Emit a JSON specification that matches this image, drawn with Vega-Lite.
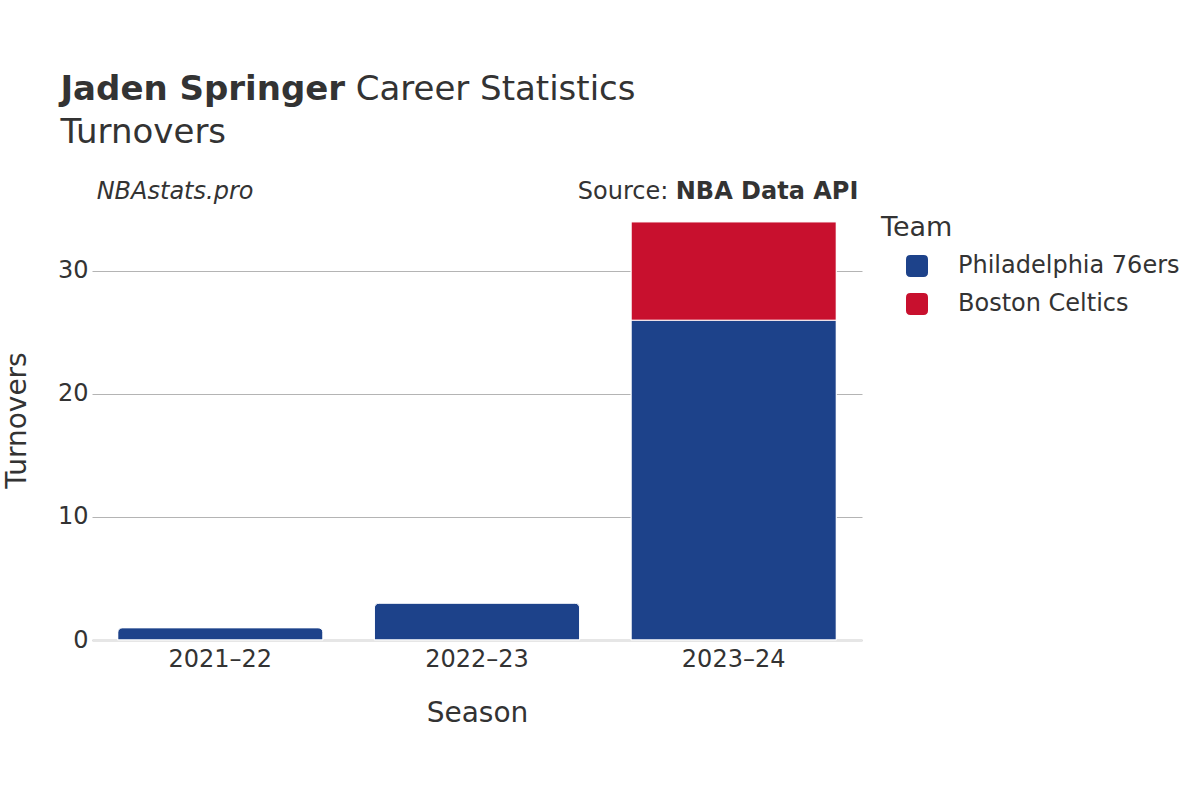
{
  "$schema": "https://vega.github.io/schema/vega-lite/v6.json",
  "background": "white",
  "padding": {"left": 3, "top": 72, "right": 5, "bottom": 5},
  "width": 770,
  "height": 425,
  "config": {
    "font": "DejaVu Sans",
    "view": {"stroke": null}
  },
  "title": {
    "text": "Jaden Springer",
    "subtitle": ["\u200b\u00a0\u00a0\u00a0\u00a0\u00a0\u00a0\u00a0\u00a0\u00a0\u00a0\u00a0\u00a0\u00a0\u00a0\u00a0\u00a0\u00a0\u00a0\u00a0\u00a0\u00a0\u00a0\u00a0\u00a0\u00a0\u00a0\u00a0\u200aCareer Statistics", "Turnovers"],
    "anchor": "start",
    "frame": "bounds",
    "fontSize": 34,
    "fontWeight": "bold",
    "color": "#333333",
    "lineHeight": 34,
    "subtitleFontSize": 34,
    "subtitleFontWeight": "normal",
    "subtitleColor": "#333333",
    "subtitleLineHeight": 43,
    "subtitlePadding": -34,
    "dx": 57,
    "offset": 30
  },
  "layer": [
    {
      "data": {
        "values": [
          {"Season": "2021–22", "Team": "Philadelphia 76ers", "Turnovers": 1},
          {"Season": "2022–23", "Team": "Philadelphia 76ers", "Turnovers": 3},
          {"Season": "2023–24", "Team": "Philadelphia 76ers", "Turnovers": 26},
          {"Season": "2023–24", "Team": "Boston Celtics", "Turnovers": 8}
        ]
      },
      "mark": {
        "type": "bar",
        "stroke": "white",
        "strokeWidth": 1,
        "cornerRadiusTopLeft": {"expr": "(datum.Team == 'Boston Celtics' || datum.Season != '2023–24') ? 5 : 0"},
        "cornerRadiusTopRight": {"expr": "(datum.Team == 'Boston Celtics' || datum.Season != '2023–24') ? 5 : 0"}
      },
      "encoding": {
        "x": {
          "field": "Season",
          "type": "nominal",
          "scale": {"paddingInner": 0.2, "paddingOuter": 0.1},
          "axis": {
            "title": "Season",
            "labelAngle": 0,
            "labelFontSize": 24,
            "labelColor": "#333333",
            "labelPadding": 7,
            "titleFontSize": 28,
            "titleFontWeight": "normal",
            "titleColor": "#333333",
            "titlePadding": 28,
            "ticks": false,
            "domainColor": "#e6e6e6",
            "domainWidth": 3
          }
        },
        "y": {
          "field": "Turnovers",
          "type": "quantitative",
          "stack": "zero",
          "scale": {"domain": [0, 34.55], "nice": false},
          "axis": {
            "title": "Turnovers",
            "values": [0, 10, 20, 30],
            "labelFontSize": 24,
            "labelColor": "#333333",
            "labelPadding": 4,
            "titleFontSize": 28,
            "titleFontWeight": "normal",
            "titleColor": "#333333",
            "titlePadding": 26,
            "titleY": 205,
            "ticks": false,
            "domain": false,
            "gridColor": "#b4b4b4",
            "gridWidth": 1
          }
        },
        "color": {
          "field": "Team",
          "type": "nominal",
          "scale": {
            "domain": ["Philadelphia 76ers", "Boston Celtics"],
            "range": ["#1d428a", "#c8102e"]
          },
          "legend": {
            "title": "Team",
            "titleFontSize": 27,
            "titleFontWeight": "normal",
            "titleColor": "#333333",
            "titlePadding": 12,
            "labelFontSize": 24,
            "labelColor": "#333333",
            "labelLimit": 400,
            "labelOffset": 29,
            "symbolOffset": 24,
            "symbolType": "M -0.6 -1 H 0.6 Q 1 -1 1 -0.6 V 0.6 Q 1 1 0.6 1 H -0.6 Q -1 1 -1 0.6 V -0.6 Q -1 -1 -0.6 -1 Z",
            "symbolSize": 484,
            "symbolStrokeWidth": 0,
            "symbolOpacity": 1,
            "rowPadding": 14,
            "offset": 19,
            "padding": 0
          }
        },
        "order": {"field": "Team", "sort": "descending"}
      }
    },
    {
      "data": {"values": [{"label": "NBAstats.pro"}]},
      "mark": {
        "type": "text",
        "align": "left",
        "baseline": "middle",
        "fontSize": 24,
        "fontStyle": "italic",
        "color": "#333333",
        "dx": -21
      },
      "encoding": {
        "x": {"datum": "2021–22", "bandPosition": 0},
        "y": {"datum": 36.42},
        "text": {"field": "label"}
      }
    },
    {
      "data": {"values": [{"label": "NBA Data API"}]},
      "mark": {
        "type": "text",
        "align": "right",
        "baseline": "middle",
        "fontSize": 24,
        "fontWeight": "bold",
        "color": "#333333",
        "dx": 22
      },
      "encoding": {
        "x": {"datum": "2023–24", "bandPosition": 1},
        "y": {"datum": 36.42},
        "text": {"field": "label"}
      }
    },
    {
      "data": {"values": [{"label": "Source:"}]},
      "mark": {
        "type": "text",
        "align": "right",
        "baseline": "middle",
        "fontSize": 24,
        "color": "#333333",
        "dx": -168
      },
      "encoding": {
        "x": {"datum": "2023–24", "bandPosition": 1},
        "y": {"datum": 36.42},
        "text": {"field": "label"}
      }
    }
  ]
}
